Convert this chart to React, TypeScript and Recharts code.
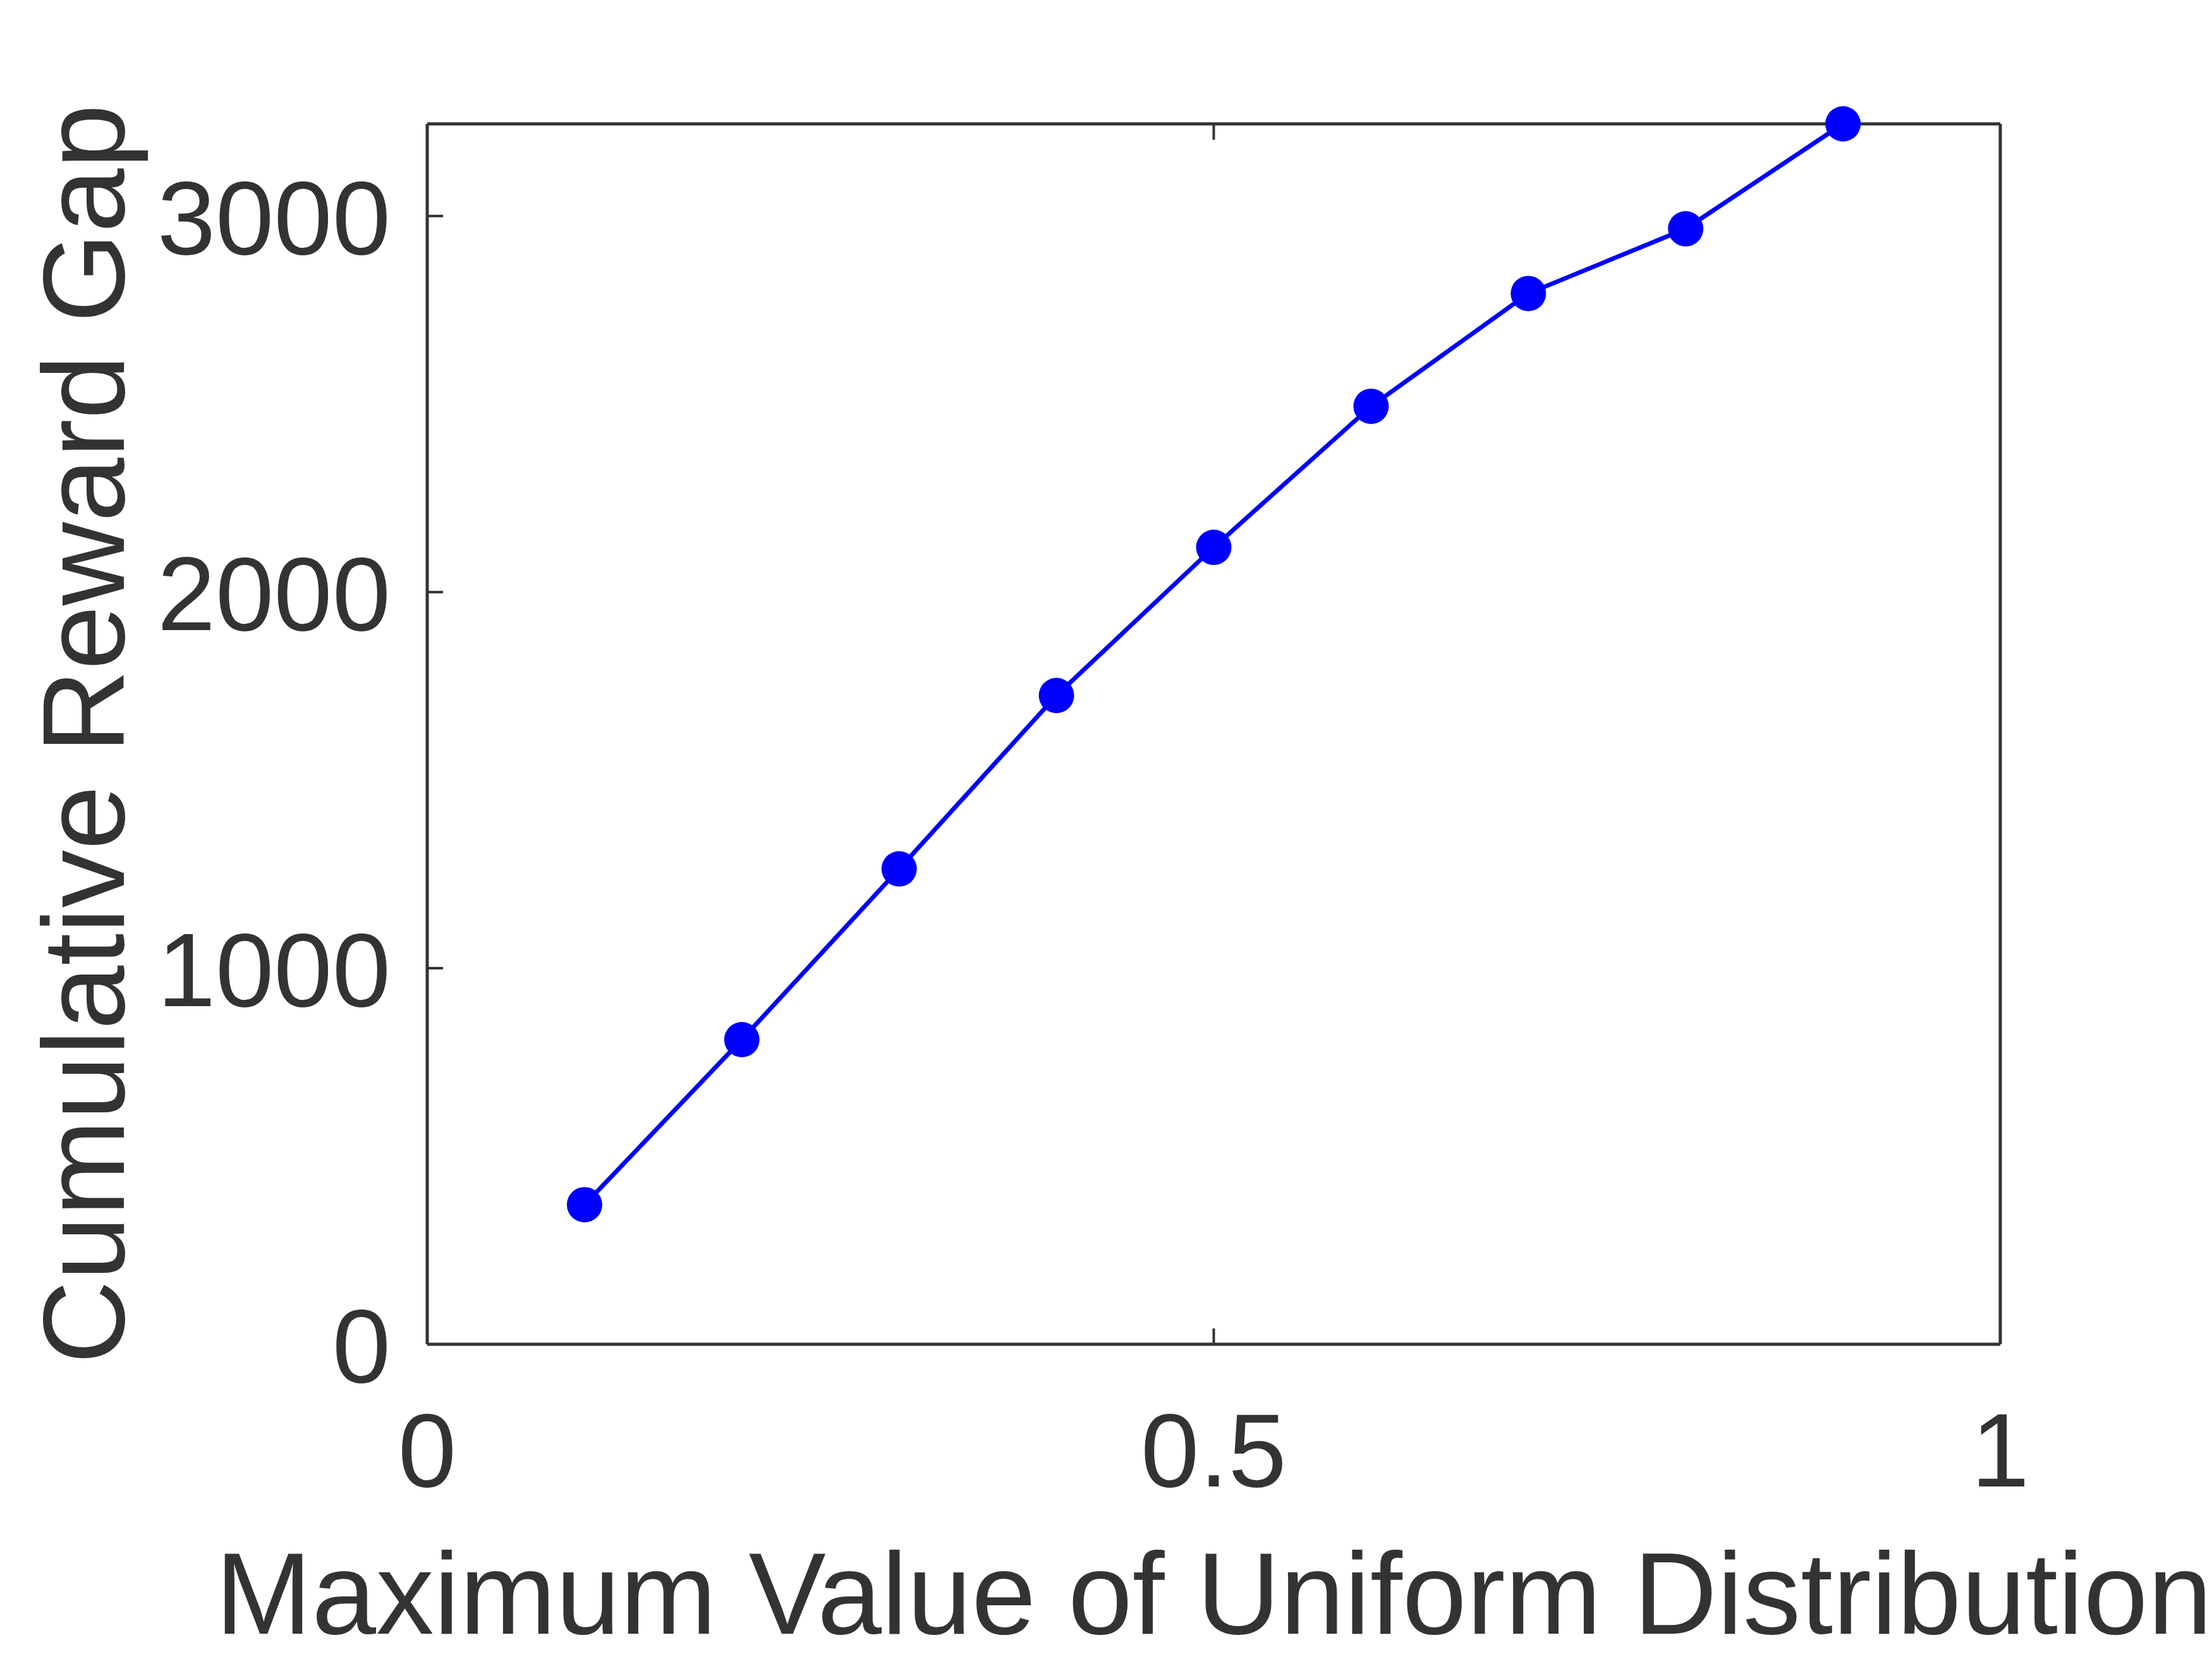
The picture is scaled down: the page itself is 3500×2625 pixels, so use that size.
import React from "react";
import { LineChart, Line, XAxis, YAxis, Label } from "recharts";

// values
const maxValues = [0.1, 0.2, 0.3, 0.4, 0.5, 0.6, 0.7, 0.8, 0.9];
const rewardGap = [371, 810, 1264, 1725, 2119, 2494, 2794, 2966, 3245];
const xTicks = [0, 0.5, 1];
const yTicks = [0, 1000, 2000, 3000];
const xTickLabels = ["0", "0.5", "1"];
const yTickLabels = ["0", "1000", "2000", "3000"];

const data = maxValues.map((x, i) => ({ x, gap: rewardGap[i] }));

const FONT = "'Liberation Sans', Arial, Helvetica, sans-serif";
const AXIS = "#333333";
const TICK_LEN = 25;

const BottomTick = (props: any) => {
  const { x, y, payload } = props;
  const idx = xTicks.indexOf(payload.value);
  return (
    <g>
      <line x1={x} y1={y} x2={x} y2={y - TICK_LEN} stroke={AXIS} strokeWidth={4} />
      <text x={x} y={y + 225} textAnchor="middle" fontSize={166} fontFamily={FONT} fill={AXIS}>
        {xTickLabels[idx]}
      </text>
    </g>
  );
};

const TopTick = (props: any) => {
  const { x, y } = props;
  return <line x1={x} y1={y} x2={x} y2={y + TICK_LEN} stroke={AXIS} strokeWidth={4} />;
};

const LeftTick = (props: any) => {
  const { x, y, payload } = props;
  const idx = yTicks.indexOf(payload.value);
  return (
    <g>
      <line x1={x} y1={y} x2={x + TICK_LEN} y2={y} stroke={AXIS} strokeWidth={4} />
      <text x={x - 58} y={y} dy="0.36em" textAnchor="end" fontSize={166} fontFamily={FONT} fill={AXIS}>
        {yTickLabels[idx]}
      </text>
    </g>
  );
};

const RightTick = (props: any) => {
  const { x, y } = props;
  return <line x1={x} y1={y} x2={x - TICK_LEN} y2={y} stroke={AXIS} strokeWidth={4} />;
};

export default function App() {
  return (
    <div style={{ position: "absolute", left: 0, top: 0, background: "#fff" }}>
      <LineChart
        width={3500}
        height={2625}
        data={data}
        margin={{ top: 195, right: 334, bottom: 0, left: 0 }}
      >
        <XAxis
          dataKey="x"
          type="number"
          xAxisId="bottom"
          domain={[0, 1]}
          ticks={xTicks}
          height={498}
          tickSize={0}
          tickMargin={0}
          tickLine={false}
          tick={<BottomTick />}
          axisLine={{ stroke: AXIS, strokeWidth: 5 }}
        >
          <Label
            content={(p: any) => {
              const vb = p.viewBox;
              return (
                <text
                  x={vb.x + vb.width / 2}
                  y={2585}
                  textAnchor="middle"
                  fontSize={183}
                  fontFamily={FONT}
                  fill={AXIS}
                >
                  Maximum Value of Uniform Distribution
                </text>
              );
            }}
          />
        </XAxis>
        <XAxis
          dataKey="x"
          type="number"
          xAxisId="top"
          orientation="top"
          domain={[0, 1]}
          ticks={xTicks}
          height={1}
          tickSize={0}
          tickMargin={0}
          tickLine={false}
          tick={<TopTick />}
          axisLine={{ stroke: AXIS, strokeWidth: 5 }}
        />
        <YAxis
          yAxisId="left"
          type="number"
          domain={[0, 3245]}
          ticks={yTicks}
          width={676}
          tickSize={0}
          tickMargin={0}
          tickLine={false}
          tick={<LeftTick />}
          axisLine={{ stroke: AXIS, strokeWidth: 5 }}
        >
          <Label
            content={(p: any) => {
              const vb = p.viewBox;
              const cy = vb.y + vb.height / 2;
              return (
                <text
                  x={196}
                  y={cy}
                  transform={`rotate(-90, 196, ${cy})`}
                  textAnchor="middle"
                  fontSize={183}
                  fontFamily={FONT}
                  fill={AXIS}
                >
                  Cumulative Reward Gap
                </text>
              );
            }}
          />
        </YAxis>
        <YAxis
          yAxisId="right"
          orientation="right"
          type="number"
          domain={[0, 3245]}
          ticks={yTicks}
          width={1}
          tickSize={0}
          tickMargin={0}
          tickLine={false}
          tick={<RightTick />}
          axisLine={{ stroke: AXIS, strokeWidth: 5 }}
        />
        <Line
          xAxisId="bottom"
          yAxisId="left"
          dataKey="gap"
          type="linear"
          stroke="#0000ff"
          strokeWidth={7}
          dot={{ r: 28, fill: "#0000ff", stroke: "#0000ff", strokeWidth: 0 }}
          activeDot={false}
          isAnimationActive={false}
        />
      </LineChart>
    </div>
  );
}
